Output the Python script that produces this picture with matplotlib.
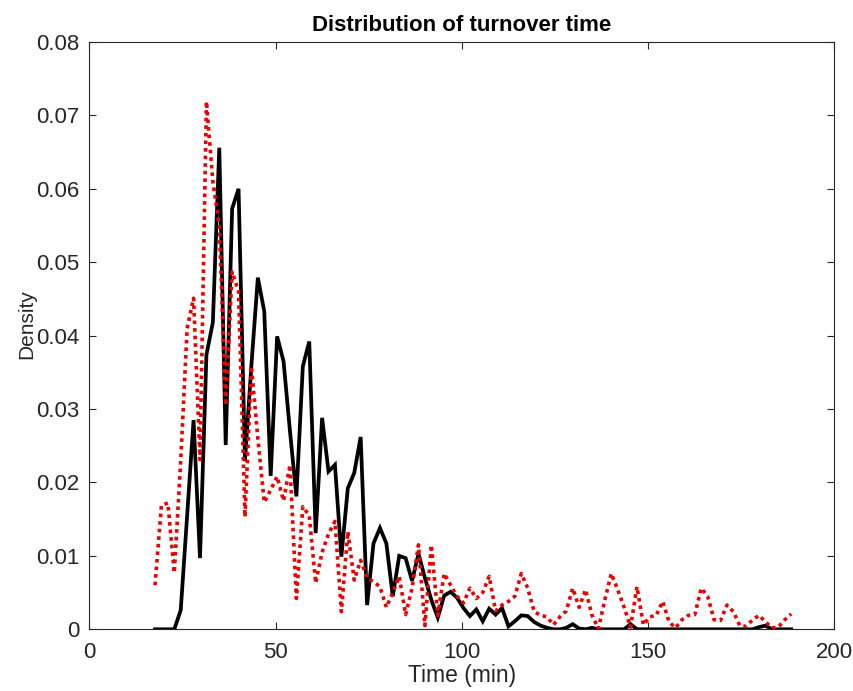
import numpy as np
import matplotlib
matplotlib.use('Agg')
import matplotlib.pyplot as plt

# density curves, evaluated on a regular time grid (min)
t_start, t_end, n_pts = 17.6, 188.5, 100

density_black = [
    0, 0, 0, 0, 0.0026, 0.0155, 0.0285, 0.0097, 0.0374, 0.0418,
    0.0656, 0.0251, 0.0573, 0.0600, 0.0229, 0.0360, 0.0479, 0.0433, 0.0209, 0.0399,
    0.0365, 0.0270, 0.0181, 0.0358, 0.0392, 0.0131, 0.0288, 0.0215, 0.0224, 0.0099,
    0.0192, 0.0213, 0.0262, 0.0033, 0.0117, 0.0138, 0.0117, 0.0045, 0.0100, 0.0097,
    0.0066, 0.0103, 0.0070, 0.0040, 0.0016, 0.0046, 0.0051, 0.0043, 0.0029, 0.0018,
    0.0027, 0.0011, 0.0028, 0.0020, 0.0029, 0.0004, 0.0011, 0.0019, 0.0018, 0.0010,
    0.0005, 0.0002, 0, 0, 0.0002, 0.0007, 0.0001, 0, 0.0002, 0,
    0, 0, 0, 0, 0.0007, 0, 0, 0, 0, 0,
    0, 0, 0, 0, 0, 0, 0, 0, 0, 0,
    0, 0, 0, 0, 0.0003, 0.0005, 0, 0, 0, 0,
]

density_red = [
    0.0060, 0.0169, 0.0172, 0.0077, 0.0230, 0.0410, 0.0451, 0.0231, 0.0719, 0.0610,
    0.0550, 0.0305, 0.0487, 0.0460, 0.0153, 0.0358, 0.0260, 0.0173, 0.0190, 0.0208,
    0.0175, 0.0224, 0.0042, 0.0167, 0.0155, 0.0063, 0.0105, 0.0130, 0.0147, 0.0024,
    0.0133, 0.0067, 0.0094, 0.0070, 0.0065, 0.0058, 0.0030, 0.0050, 0.0072, 0.0020,
    0.0056, 0.0115, 0.0005, 0.0115, 0.0019, 0.0076, 0.0060, 0.0045, 0.0036, 0.0056,
    0.0042, 0.0050, 0.0072, 0.0025, 0.0033, 0.0038, 0.0045, 0.0076, 0.0056, 0.0024,
    0.0019, 0.0017, 0.0006, 0.0017, 0.0025, 0.0056, 0.0030, 0.0054, 0.0019, 0.0001,
    0.0040, 0.0076, 0.0054, 0.0030, 0.0003, 0.0058, 0.0006, 0.0017, 0.0019, 0.0038,
    0.0010, 0.0002, 0.0013, 0.0019, 0.0020, 0.0056, 0.0045, 0.0013, 0.0012, 0.0033,
    0.0024, 0.0005, 0.0004, 0.0013, 0.0019, 0.0010, 0.0002, 0.0003, 0.0013, 0.0021,
]

x_ticks = [0, 50, 100, 150, 200]
y_ticks = [0, 0.01, 0.02, 0.03, 0.04, 0.05, 0.06, 0.07, 0.08]
y_tick_labels = ['0', '0.01', '0.02', '0.03', '0.04', '0.05', '0.06', '0.07', '0.08']

plt.rcParams['font.family'] = ['Liberation Sans', 'DejaVu Sans']
ink = '#262626'

t = np.linspace(t_start, t_end, n_pts)

fig = plt.figure(figsize=(8.54, 6.91), dpi=100)
ax = fig.add_axes([0.1048, 0.0893, 0.8718, 0.8499])

ax.plot(t, density_black, color='black', lw=2.7, solid_joinstyle='miter')
ax.plot(t, density_red, color='#e60000', lw=2.6, ls=(0, (1, 1.1)),
        dash_capstyle='butt')

ax.set_xlim(0, 200)
ax.set_ylim(0, 0.08)
ax.set_xticks(x_ticks)
ax.set_yticks(y_ticks)
ax.set_yticklabels(y_tick_labels)
ax.tick_params(direction='in', length=5, width=0.8, colors=ink,
               labelsize=16, top=True, right=True, pad=7)
ax.tick_params(axis='x', pad=9)
for s in ax.spines.values():
    s.set_color(ink)
    s.set_linewidth(0.8)

ax.set_title('Distribution of turnover time', fontsize=16, fontweight='bold',
             color='black', pad=8)
ax.set_xlabel('Time (min)', fontsize=16.5, color=ink, labelpad=1)
ax.set_ylabel('Density', fontsize=15, color=ink)
ax.yaxis.set_label_coords(-0.072, 0.52)

fig.savefig('out.png', dpi=100)
